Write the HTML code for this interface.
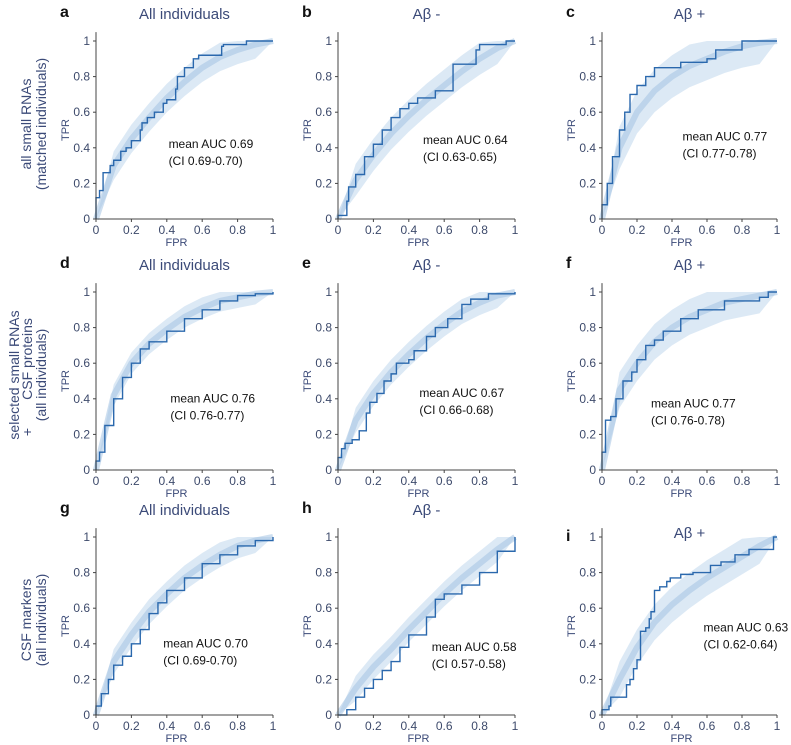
<!DOCTYPE html>
<html><head><meta charset="utf-8"><style>
body{margin:0;background:#fff;}
svg{display:block;font-family:"Liberation Sans",Arial,sans-serif;}
</style></head><body>
<svg id="fig" width="791" height="745" viewBox="0 0 791 745"></svg>
<script>
// ---- data ----
const panelIds = ['a','b','c','d','e','f','g','h','i'];
const panelTitles = ['All individuals','Aβ -','Aβ +','All individuals','Aβ -','Aβ +','All individuals','Aβ -','Aβ +'];
const aucLabels = ['mean AUC 0.69','mean AUC 0.64','mean AUC 0.77','mean AUC 0.76','mean AUC 0.67','mean AUC 0.77','mean AUC 0.70','mean AUC 0.58','mean AUC 0.63'];
const ciLabels = ['(CI 0.69-0.70)','(CI 0.63-0.65)','(CI 0.77-0.78)','(CI 0.76-0.77)','(CI 0.66-0.68)','(CI 0.76-0.78)','(CI 0.69-0.70)','(CI 0.57-0.58)','(CI 0.62-0.64)'];
const rowLabels = [[['all small RNAs'],['(matched individuals)']],[['selected small RNAs'],['+','CSF proteins'],['(all individuals)']],[['CSF markers'],['(all individuals)']]];
const ticks = [0,0.2,0.4,0.6,0.8,1];
const tickLabels = ['0','0.2','0.4','0.6','0.8','1'];
const bandX = [0,0.1,0.2,0.3,0.4,0.5,0.6,0.7,0.8,0.9,1];
const bandMid = [
 [0,.30,.45,.57,.68,.77,.85,.91,.95,.98,1],
 [0,.22,.36,.48,.58,.67,.75,.83,.90,.96,1],
 [0,.40,.60,.72,.80,.86,.90,.94,.97,.99,1],
 [0,.42,.60,.71,.79,.86,.91,.95,.97,.99,1],
 [0,.28,.43,.55,.65,.74,.82,.89,.94,.98,1],
 [0,.45,.60,.72,.80,.86,.90,.94,.96,.98,1],
 [0,.30,.45,.58,.68,.77,.84,.90,.95,.98,1],
 [0,.15,.27,.37,.48,.58,.68,.77,.85,.93,1],
 [0,.20,.38,.52,.62,.70,.77,.83,.89,.95,1]];
const bandHalf = [0.08,0.09,0.12,0.06,0.07,0.1,0.07,0.07,0.1];
const mainFpr = [
 [0,.02,.04,.08,.1,.14,.17,.2,.25,.26,.29,.33,.38,.4,.45,.46,.5,.55,.58,.71,.72,.85,.95,1],
 [0,.05,.06,.1,.15,.2,.25,.3,.35,.4,.45,.55,.65,.7,.78,.8,.95,1],
 [0,.03,.06,.1,.13,.16,.2,.25,.3,.45,.6,.65,.8,1],
 [0,.02,.05,.1,.15,.2,.25,.3,.4,.5,.6,.7,.8,.9,1],
 [0,.02,.04,.08,.12,.16,.18,.22,.26,.3,.33,.4,.43,.5,.55,.62,.7,.75,.85,1],
 [0,.02,.05,.08,.12,.17,.2,.25,.3,.35,.45,.55,.7,.9,.95,1],
 [0,.03,.07,.1,.15,.2,.25,.3,.35,.4,.5,.6,.7,.8,.9,1],
 [0,.05,.1,.15,.2,.25,.3,.35,.4,.5,.55,.6,.7,.8,.9,1],
 [0,.04,.05,.07,.14,.16,.18,.2,.22,.25,.27,.28,.3,.33,.37,.39,.45,.52,.62,.68,.76,.84,.98,1]];
const mainTpr = [
 [.12,.16,.26,.30,.33,.38,.40,.44,.50,.54,.57,.60,.65,.67,.73,.80,.85,.90,.92,.97,.98,1,1,1],
 [.02,.10,.18,.25,.35,.42,.50,.57,.62,.65,.68,.72,.87,.87,.95,.98,1,1],
 [.08,.20,.35,.50,.60,.70,.75,.80,.85,.88,.90,.95,1,1],
 [.05,.10,.25,.40,.52,.60,.68,.72,.78,.85,.90,.95,.98,.99,1],
 [.07,.12,.15,.17,.22,.32,.38,.43,.50,.54,.60,.62,.67,.75,.80,.85,.93,.96,.99,1],
 [.10,.28,.30,.40,.50,.55,.62,.70,.73,.78,.85,.90,.95,.97,1,1],
 [.05,.12,.20,.28,.33,.40,.48,.57,.63,.70,.77,.85,.90,.95,.98,1],
 [0,.03,.10,.15,.20,.25,.30,.38,.45,.55,.65,.68,.73,.80,.92,1],
 [.03,.05,.10,.10,.17,.20,.26,.31,.47,.49,.54,.58,.70,.72,.75,.77,.79,.80,.84,.86,.90,.93,1,1]];
const textPos = [[.41,.40],[.48,.42],[.46,.44],[.42,.38],[.46,.41],[.28,.35],[.38,.38],[.53,.36],[.58,.47]];

// ---- layout ----
const colX0 = [96,338,602], colW = [177,177,175];
const rowY1 = [41,292,537], rowH = 178;
const rowLabelBaselines = [[31,46],[19,32,46],[31,46]];
const rowLabelOffsets = [[[0],[0]],[[0],[-57,16],[0]],[[0],[0]]];
const NS='http://www.w3.org/2000/svg';
const svg=document.getElementById('fig');
function mk(tag,attrs,parent){const e=document.createElementNS(NS,tag);for(const k in attrs)e.setAttribute(k,attrs[k]);(parent||svg).appendChild(e);return e;}

rowLabels.forEach((lines,r)=>{
  const cy=rowY1[r]+rowH/2-6;
  const t=mk('text',{transform:`translate(0,${cy}) rotate(-90)`,'text-anchor':'middle',fill:'#3b4a78','font-size':14});
  
  
  lines.forEach((parts,i)=>{parts.forEach((ln,j)=>{const s=mk('tspan',{x:rowLabelOffsets[r][i][j],y:rowLabelBaselines[r][i]},t);s.textContent=ln;});});
});

panelIds.forEach((id,p)=>{
  const r=Math.floor(p/3),c=p%3;
  const x0=colX0[c],w=colW[c],y0=rowY1[r]+rowH;
  const sx=v=>x0+v*w, sy=v=>y0-v*rowH;
  const g=mk('g',{});
  
  
  let d='M'+bandX.map((x,i)=>sx(x)+','+sy(Math.min(1,bandMid[p][i]+(i>0&&i<10?bandHalf[p]:0)))).join('L');
  for(let i=bandX.length-1;i>=0;i--)d+='L'+sx(bandX[i])+','+sy(Math.max(0,bandMid[p][i]-(i>0&&i<10?bandHalf[p]:0)));
  const band=mk('path',{d:d+'Z',fill:'#d3e3f3',opacity:0.8},g);
  
  
  const mid=mk('path',{d:'M'+bandX.map((x,i)=>sx(x)+','+sy(bandMid[p][i])).join('L'),fill:'none',stroke:'#9dc0e2','stroke-width':6,opacity:0.5},g);
  
  
  const F=mainFpr[p],T=mainTpr[p];
  let md='M'+sx(0)+','+sy(0)+'L'+sx(F[0])+','+sy(T[0]);
  for(let i=1;i<F.length;i++){md+='L'+sx(F[i])+','+sy(T[i-1])+'L'+sx(F[i])+','+sy(T[i]);}
  const line=mk('path',{d:md,fill:'none',stroke:'#2a68ad','stroke-width':1.4},g);
  
  
  const ax=mk('path',{d:`M${x0},${sy(1.05)}V${y0}H${x0+w}`,fill:'none',stroke:'#444','stroke-width':1},g);
  
  
  ticks.forEach((v,i)=>{
    mk('line',{x1:sx(v),x2:sx(v),y1:y0,y2:y0+3,stroke:'#444'},g);
    mk('line',{x1:x0-3,x2:x0,y1:sy(v),y2:sy(v),stroke:'#444'},g);
    const tx=mk('text',{x:sx(v),y:y0+15,'text-anchor':'middle','font-size':12,fill:'#3d4a6b'},g);tx.textContent=tickLabels[i];
    
    
    const ty=mk('text',{x:x0-6,y:sy(v)+4,'text-anchor':'end','font-size':12,fill:'#3d4a6b'},g);ty.textContent=tickLabels[i];
    
    
  });
  const xt=mk('text',{x:x0+w/2-8,y:y0+27,'text-anchor':'middle','font-size':11,fill:'#3b4a78'},g);xt.textContent='FPR';
  
  
  const yt=mk('text',{transform:`translate(${x0-27},${y0-rowH/2}) rotate(-90)`,'text-anchor':'middle','font-size':11,fill:'#3b4a78'},g);yt.textContent='TPR';
  
  
  const tt=mk('text',{x:x0+w/2,y:rowY1[r]-(c===2&&r===2?-1:24)+(c===2&&r===2?0:2),'text-anchor':'middle','font-size':15,fill:'#3b4a78'},g);tt.textContent=panelTitles[p];
  
  
  const lt=mk('text',{x:x0-36,y:rowY1[r]-(c===2&&r===2?-4:24),'font-size':16,'font-weight':'bold',fill:'#111'},g);lt.textContent=id;
  
  
  const a1=mk('text',{x:sx(textPos[p][0]),y:sy(textPos[p][1]),'font-size':12,fill:'#111'},g);a1.textContent=aucLabels[p];
  
  
  const a2=mk('text',{x:sx(textPos[p][0]),y:sy(textPos[p][1])+17,'font-size':12,fill:'#111'},g);a2.textContent=ciLabels[p];
  
  
});
</script>
</body></html>
